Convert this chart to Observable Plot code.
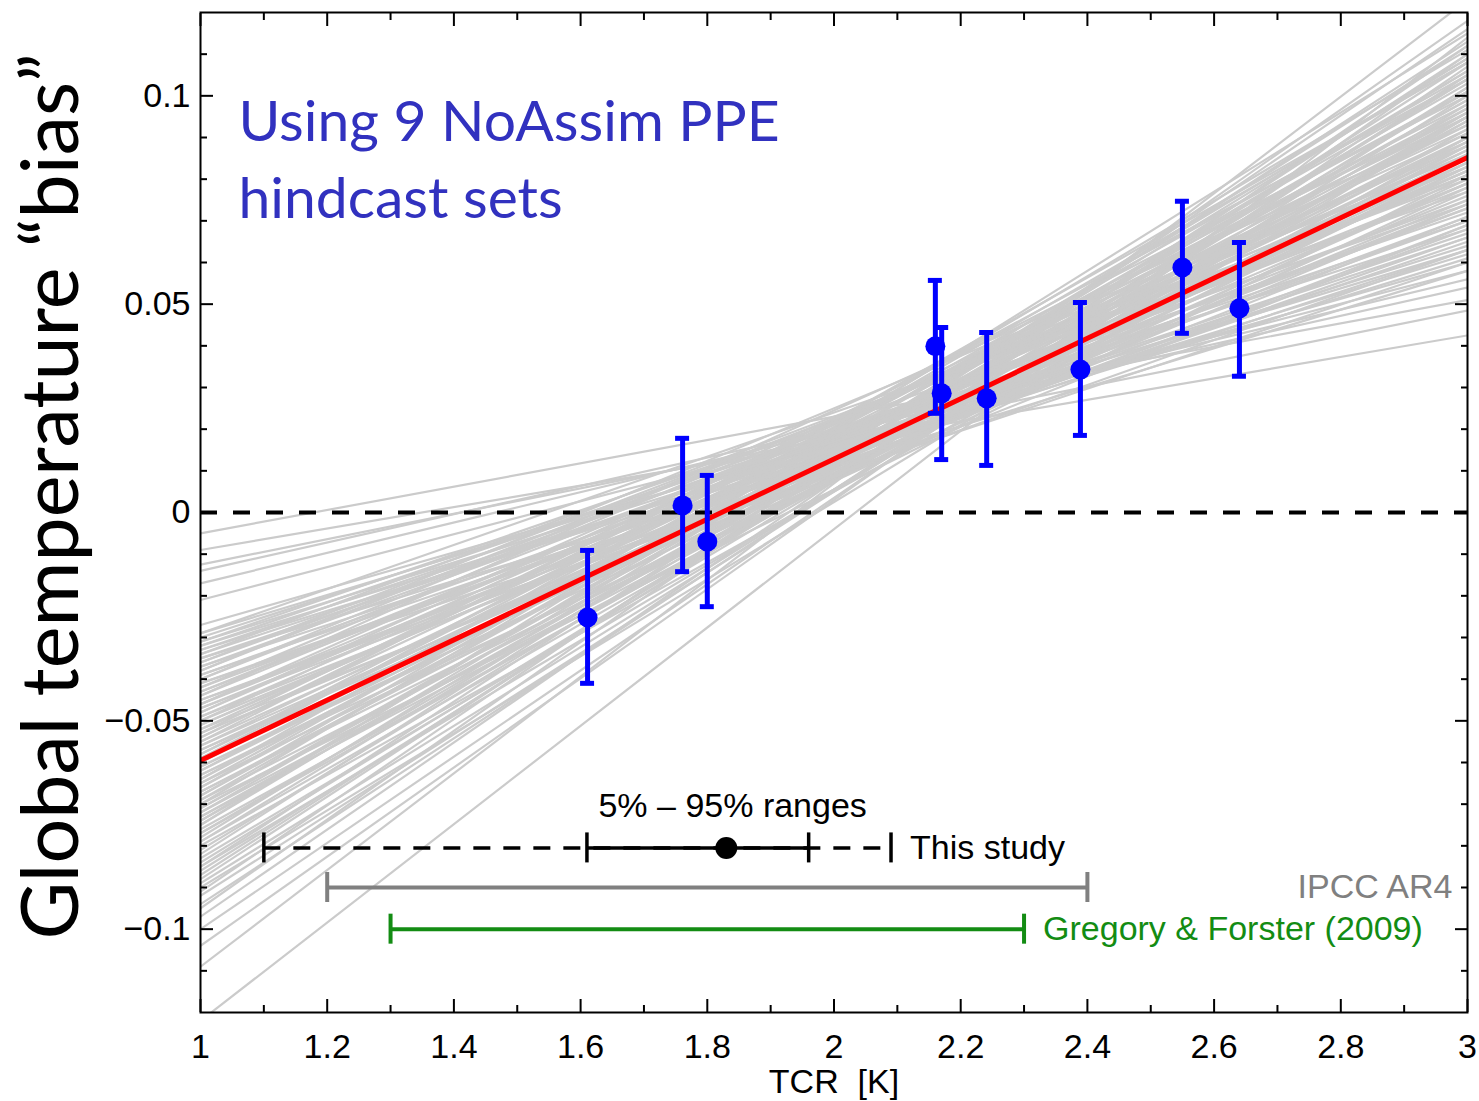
<!DOCTYPE html>
<html><head><meta charset="utf-8">
<script src="https://cdn.jsdelivr.net/npm/d3@7"></script>
<script src="https://cdn.jsdelivr.net/npm/@observablehq/plot@0.6"></script>
<style>
html,body{margin:0;padding:0;background:#fff;}
#chart svg{display:block;}
</style>
</head><body><div id="chart"></div>
<script>
// ---- data ----
const xMajorTicks = [1, 1.2, 1.4, 1.6, 1.8, 2, 2.2, 2.4, 2.6, 2.8, 3];
const xMinorTicks = [1.1, 1.3, 1.5, 1.7, 1.9, 2.1, 2.3, 2.5, 2.7, 2.9];
const yMajorTicks = [-0.1, -0.05, 0, 0.05, 0.1];
const yMinorTicks = [-0.11, -0.09, -0.08, -0.07, -0.06, -0.04, -0.03, -0.02, -0.01,
                     0.01, 0.02, 0.03, 0.04, 0.06, 0.07, 0.08, 0.09, 0.11];

// PPE hindcast sets: TCR, bias, error-bar low/high
const hindcastTCR  = [1.611, 1.761, 1.800, 2.160, 2.170, 2.241, 2.389, 2.550, 2.640];
const hindcastBias = [-0.0252, 0.0017, -0.0070, 0.0399, 0.0286, 0.0274, 0.0343, 0.0588, 0.0490];
const hindcastLow  = [-0.0410, -0.0142, -0.0226, 0.0238, 0.0127, 0.0113, 0.0185, 0.0430, 0.0327];
const hindcastHigh = [-0.0091, 0.0178, 0.0089, 0.0557, 0.0444, 0.0432, 0.0504, 0.0747, 0.0648];

// Best-fit regression line (red), values at TCR = 1 and TCR = 3
const fitTCR  = [1, 3];
const fitBias = [-0.0595, 0.0852];

// Ensemble of sampled regression lines (grey): bias at TCR = 1 and at TCR = 3
const ensembleAtTCR1 = [
  -0.122, -0.109, -0.104, -0.097, -0.094, -0.091, -0.089, -0.087, -0.085, -0.083,
  -0.081, -0.079, -0.078, -0.077, -0.076, -0.075, -0.074, -0.073, -0.072, -0.071,
  -0.070, -0.069, -0.068, -0.067, -0.066, -0.065, -0.064, -0.063, -0.062, -0.061,
  -0.060, -0.059, -0.058, -0.057, -0.056, -0.055, -0.054, -0.053, -0.052, -0.051,
  -0.050, -0.049, -0.048, -0.047, -0.046, -0.045, -0.044, -0.043, -0.042, -0.041,
  -0.040, -0.039, -0.038, -0.037, -0.036, -0.035, -0.034, -0.033, -0.032, -0.031,
  -0.029, -0.027, -0.021, -0.017, -0.014, -0.0125, -0.009, -0.005,
  -0.080, -0.075, -0.068, -0.063, -0.058, -0.055, -0.052, -0.049, -0.046, -0.044,
  -0.041, -0.038, -0.035, -0.033, -0.030, -0.045, -0.060, -0.070, -0.085, -0.092,
  -0.100, -0.095, -0.088, -0.084, -0.082, -0.079, -0.077, -0.074, -0.072, -0.071,
  -0.069, -0.067, -0.066, -0.064, -0.062, -0.061, -0.059, -0.057, -0.056, -0.054,
  -0.053, -0.051, -0.050, -0.048, -0.047, -0.046, -0.043, -0.042, -0.040, -0.039,
  -0.037, -0.036, -0.034, -0.032, -0.031, -0.029, -0.065, -0.073, -0.086, -0.090
];
const ensembleAtTCR3 = [
  0.114, 0.123, 0.110, 0.112, 0.105, 0.116, 0.100, 0.108, 0.113, 0.098,
  0.104, 0.095, 0.109, 0.101, 0.092, 0.106, 0.097, 0.088, 0.103, 0.094,
  0.111, 0.086, 0.099, 0.090, 0.105, 0.083, 0.096, 0.087, 0.101, 0.080,
  0.093, 0.084, 0.098, 0.077, 0.090, 0.082, 0.095, 0.074, 0.087, 0.079,
  0.092, 0.071, 0.085, 0.076, 0.089, 0.068, 0.081, 0.073, 0.086, 0.066,
  0.078, 0.070, 0.083, 0.063, 0.075, 0.067, 0.080, 0.061, 0.072, 0.064,
  0.077, 0.060, 0.058, 0.056, 0.054, 0.0485, 0.0425, 0.051,
  0.090, 0.115, 0.108, 0.078, 0.088, 0.100, 0.069, 0.082, 0.074, 0.093,
  0.060, 0.088, 0.058, 0.070, 0.068, 0.063, 0.104, 0.081, 0.096, 0.102,
  0.107, 0.118, 0.110, 0.102, 0.112, 0.106, 0.094, 0.109, 0.089, 0.099,
  0.104, 0.084, 0.095, 0.108, 0.091, 0.086, 0.097, 0.083, 0.079, 0.089,
  0.096, 0.084, 0.075, 0.091, 0.069, 0.082, 0.079, 0.071, 0.085, 0.065,
  0.073, 0.081, 0.066, 0.062, 0.074, 0.063, 0.101, 0.095, 0.104, 0.095
];

// 5%-95% ranges of TCR
const rangeNames   = ["This study", "IPCC AR4", "Gregory & Forster (2009)"];
const rangeRow     = [-0.0805, -0.0900, -0.1000];
const rangeLow     = [1.10, 1.20, 1.30];
const rangeHigh    = [2.09, 2.40, 2.30];
const studyInner   = [1.61, 1.96];   // solid inner part of "This study"
const studyBest    = 1.83;

// ---- tables ----
const hindcasts = hindcastTCR.map((x, i) => ({x, y: hindcastBias[i], lo: hindcastLow[i], hi: hindcastHigh[i]}));
const ensemble = ensembleAtTCR1.map((a, i) => ({a, b: ensembleAtTCR3[i]}));
const fit = fitTCR.map((x, i) => ({x, y: fitBias[i]}));
const study = {y: rangeRow[0], lo: rangeLow[0], hi: rangeHigh[0]};
const studyTicks = [rangeLow[0], studyInner[0], studyInner[1], rangeHigh[0]];

const BLUE = "#0000ff", GREEN = "#138c13", GREY = "#808080";
const LABEL_FONT = "Lato, 'Open Sans', sans-serif";
const FS = 34;

const noText = () => "";
const numFmt = d => (d < 0 ? "\u2212" : "") + String(Math.abs(d));
const chart = Plot.plot({
  width: 1479, height: 1101,
  marginLeft: 200, marginRight: 12, marginTop: 12, marginBottom: 89,
  x: {domain: [1, 3]},
  y: {domain: [-0.12, 0.12]},
  style: {fontFamily: "'Liberation Sans', Arial, sans-serif", fontSize: FS + "px", background: "#fff", color: "#000", overflow: "visible"},
  marks: [
    // grey ensemble
    Plot.link(ensemble, {x1: 1, y1: "a", x2: 3, y2: "b", stroke: "#cbcbcb", strokeWidth: 2.2, clip: true}),
    // zero line
    Plot.ruleY([0], {stroke: "#000", strokeWidth: 4, strokeDasharray: "17,16"}),
    // red fit
    Plot.line(fit, {x: "x", y: "y", stroke: "#ff0000", strokeWidth: 5, clip: true}),
    // blue error bars
    Plot.ruleX(hindcasts, {x: "x", y1: "lo", y2: "hi", stroke: BLUE, strokeWidth: 5}),
    Plot.ruleY(hindcasts, {y: "lo", x1: "x", x2: "x", insetLeft: -7, insetRight: -7, stroke: BLUE, strokeWidth: 5}),
    Plot.ruleY(hindcasts, {y: "hi", x1: "x", x2: "x", insetLeft: -7, insetRight: -7, stroke: BLUE, strokeWidth: 5}),
    Plot.dot(hindcasts, {x: "x", y: "y", r: 10, fill: BLUE}),
    // this study range
    Plot.ruleY([study], {y: "y", x1: "lo", x2: "hi", stroke: "#000", strokeWidth: 3.5, strokeDasharray: "17,13"}),
    Plot.ruleY([study], {y: "y", x1: studyInner[0], x2: studyInner[1], stroke: "#000", strokeWidth: 3.5}),
    Plot.ruleX(studyTicks, {x: d => d, y1: rangeRow[0], y2: rangeRow[0], insetTop: -15, insetBottom: -15, stroke: "#000", strokeWidth: 3.5}),
    Plot.dot([studyBest], {x: d => d, y: rangeRow[0], r: 11, fill: "#000"}),
    Plot.text(["5% \u2013 95% ranges"], {x: (rangeLow[0] + rangeHigh[0]) / 2 + 0.245, y: rangeRow[0], dy: -42, fill: "#000", fontSize: FS}),
    Plot.text([rangeNames[0]], {x: rangeHigh[0], y: rangeRow[0], dx: 19, textAnchor: "start", fill: "#000", fontSize: FS}),
    // IPCC AR4
    Plot.ruleY([1], {y: rangeRow[1], x1: rangeLow[1], x2: rangeHigh[1], stroke: GREY, strokeWidth: 4}),
    Plot.ruleX([rangeLow[1], rangeHigh[1]], {x: d => d, y1: rangeRow[1], y2: rangeRow[1], insetTop: -15, insetBottom: -15, stroke: GREY, strokeWidth: 4}),
    Plot.text([rangeNames[1]], {y: rangeRow[1], frameAnchor: "right", dx: -15, textAnchor: "end", fill: GREY, fontSize: FS}),
    // Gregory & Forster
    Plot.ruleY([1], {y: rangeRow[2], x1: rangeLow[2], x2: rangeHigh[2], stroke: GREEN, strokeWidth: 4}),
    Plot.ruleX([rangeLow[2], rangeHigh[2]], {x: d => d, y1: rangeRow[2], y2: rangeRow[2], insetTop: -15, insetBottom: -15, stroke: GREEN, strokeWidth: 4}),
    Plot.text([rangeNames[2]], {x: rangeHigh[2], y: rangeRow[2], dx: 19, textAnchor: "start", fill: GREEN, fontSize: FS}),
    // annotation
    Plot.text(["Using 9 NoAssim PPE\nhindcast sets"], {frameAnchor: "top-left", dx: 38, dy: 74, lineAnchor: "top", lineHeight: 1.35, textAnchor: "start", fill: "#3131bf", fontSize: 57, fontFamily: LABEL_FONT}),
    // axis titles
    Plot.text(["Global temperature \u201cbias\u201d"], {frameAnchor: "left", rotate: -90, dx: -148, dy: -16, textAnchor: "middle", fill: "#000", fontSize: 79, fontFamily: LABEL_FONT}),
    Plot.text(["TCR\u00a0 [K]"], {x: 2, frameAnchor: "bottom", dy: 70, lineAnchor: "middle", fill: "#000", fontSize: FS}),
    // axes
    Plot.axisX({anchor: "bottom", ticks: xMajorTicks, tickSize: -13, tickPadding: 34, tickFormat: numFmt, strokeWidth: 2, fontSize: FS}),
    Plot.axisX({anchor: "bottom", ticks: xMinorTicks, tickSize: -7, tickFormat: noText, strokeWidth: 2}),
    Plot.axisX({anchor: "top", ticks: xMajorTicks, tickSize: -13, tickFormat: noText, strokeWidth: 2}),
    Plot.axisX({anchor: "top", ticks: xMinorTicks, tickSize: -7, tickFormat: noText, strokeWidth: 2}),
    Plot.axisY({anchor: "left", ticks: yMajorTicks, tickSize: -13, tickPadding: 23, tickFormat: numFmt, strokeWidth: 2, fontSize: FS}),
    Plot.axisY({anchor: "left", ticks: yMinorTicks, tickSize: -7, tickFormat: noText, strokeWidth: 2}),
    Plot.axisY({anchor: "right", ticks: yMajorTicks, tickSize: -13, tickFormat: noText, strokeWidth: 2}),
    Plot.axisY({anchor: "right", ticks: yMinorTicks, tickSize: -7, tickFormat: noText, strokeWidth: 2}),
    Plot.frame({stroke: "#000", strokeWidth: 2})
  ]
});
document.getElementById("chart").appendChild(chart);
</script>
</body></html>
